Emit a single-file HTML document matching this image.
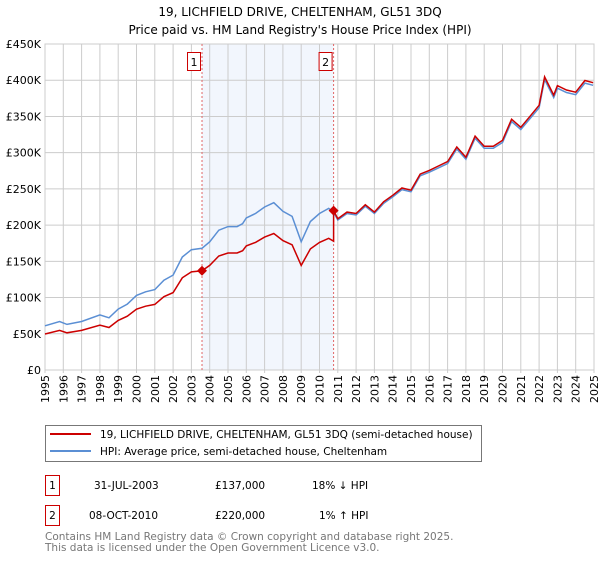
<!DOCTYPE html>
<html><head><meta charset="utf-8"><style>
body{margin:0;background:#fff;font-family:"DejaVu Sans","Liberation Sans",sans-serif;}
svg text{font-family:"DejaVu Sans","Liberation Sans",sans-serif;}
</style></head><body>
<svg id="chart" width="600" height="560" xmlns="http://www.w3.org/2000/svg">
<text x="300" y="16" text-anchor="middle" font-size="12">19, LICHFIELD DRIVE, CHELTENHAM, GL51 3DQ</text>
<text x="300" y="34" text-anchor="middle" font-size="12">Price paid vs. HM Land Registry's House Price Index (HPI)</text>
<g id="plot"></g>
<rect x="45.5" y="425.5" width="436" height="36" fill="#fff" stroke="#777"/>
<line x1="50" y1="434" x2="91" y2="434" stroke="#cc0000" stroke-width="2"/>
<text x="100" y="438" font-size="10.5">19, LICHFIELD DRIVE, CHELTENHAM, GL51 3DQ (semi-detached house)</text>
<line x1="50" y1="451" x2="91" y2="451" stroke="#5b8fd4" stroke-width="2"/>
<text x="100" y="455" font-size="10.5">HPI: Average price, semi-detached house, Cheltenham</text>
<g font-size="10.5">
<rect x="45.5" y="475.5" width="14" height="20" fill="#fff" stroke="#cc0000"/>
<text x="52.5" y="489" text-anchor="middle">1</text>
<text x="94" y="489">31-JUL-2003</text>
<text x="215" y="489">£137,000</text>
<text x="312" y="489">18% ↓ HPI</text>
</g>
<g font-size="10.5">
<rect x="45.5" y="505.5" width="14" height="20" fill="#fff" stroke="#cc0000"/>
<text x="52.5" y="519" text-anchor="middle">2</text>
<text x="89" y="519">08-OCT-2010</text>
<text x="215" y="519">£220,000</text>
<text x="319" y="519">1% ↑ HPI</text>
</g>
<text x="45" y="540" font-size="10.5" fill="#777">Contains HM Land Registry data © Crown copyright and database right 2025.</text>
<text x="45" y="551" font-size="10.5" fill="#777">This data is licensed under the Open Government Licence v3.0.</text>
</svg>
<script>
const hpiYears=[1995.0,1995.8,1996.2,1997.0,1998.0,1998.5,1999.0,1999.5,2000.0,2000.5,2001.0,2001.5,2002.0,2002.5,2003.0,2003.58,2004.0,2004.5,2005.0,2005.5,2005.8,2006.0,2006.5,2007.0,2007.5,2008.0,2008.5,2009.0,2009.5,2010.0,2010.5,2010.77,2011.0,2011.5,2012.0,2012.5,2013.0,2013.5,2014.0,2014.5,2015.0,2015.5,2016.0,2016.5,2017.0,2017.5,2018.0,2018.5,2019.0,2019.5,2020.0,2020.5,2021.0,2021.5,2022.0,2022.3,2022.8,2023.0,2023.5,2024.0,2024.5,2024.95];
const hpiValues=[61,67,63,67,76,72,84,91,103,108,111,124,131,156,166,168,177,193,198,198,202,210,216,225,231,219,212,177,205,216,223,218,207,216,214,226,216,230,239,249,246,268,273,279,285,305,291,320,306,306,314,343,332,347,362,401,376,389,383,380,396,393];
const saleYears=[2003.58,2010.77];
const salePrices=[137,220];
const yTicks=[0,50,100,150,200,250,300,350,400,450];
const yTickLabels=["£0","£50K","£100K","£150K","£200K","£250K","£300K","£350K","£400K","£450K"];
const xTicks=[1995,1996,1997,1998,1999,2000,2001,2002,2003,2004,2005,2006,2007,2008,2009,2010,2011,2012,2013,2014,2015,2016,2017,2018,2019,2020,2021,2022,2023,2024,2025];

const X0=45,X1=594,Y0=370,Y1=44;
const xs=y=>X0+(y-1995)/30*(X1-X0);
const ys=v=>Y0-v/450*(Y0-Y1);
const NS="http://www.w3.org/2000/svg";
const plot=document.getElementById('plot');
function mk(tag,attrs){const e=document.createElementNS(NS,tag);for(const k in attrs)e.setAttribute(k,attrs[k]);plot.appendChild(e);return e;}
function hpiAt(t){for(let i=0;i<hpiYears.length-1;i++){if(t>=hpiYears[i]&&t<=hpiYears[i+1]){const f=(t-hpiYears[i])/(hpiYears[i+1]-hpiYears[i]);return hpiValues[i]+f*(hpiValues[i+1]-hpiValues[i]);}}return hpiValues[hpiValues.length-1];}

let e=mk('rect',{x:X0,y:Y1,width:X1-X0,height:Y0-Y1,fill:'#fff'});


e=mk('rect',{x:xs(saleYears[0]),y:Y1,width:xs(saleYears[1])-xs(saleYears[0]),height:Y0-Y1,fill:'#f2f6fd'});


yTicks.forEach((v,i)=>{
 let l=mk('line',{x1:X0,x2:X1,y1:ys(v),y2:ys(v),stroke:'#cccccc'});
 
 
 let t=mk('text',{x:X0-4,y:ys(v)+4,'text-anchor':'end','font-size':'11'});
 t.textContent=yTickLabels[i];
 
 
});
xTicks.forEach(yr=>{
 let l=mk('line',{x1:xs(yr),x2:xs(yr),y1:Y1,y2:Y0+3,stroke:'#cccccc'});
 
 
 const tx=xs(yr)+4,ty=Y0+5;
 let t=mk('text',{x:tx,y:ty,'text-anchor':'end','font-size':'11',transform:`rotate(-90 ${tx} ${ty})`});
 t.textContent=yr;
 
 
});
e=mk('rect',{x:X0,y:Y1,width:X1-X0,height:Y0-Y1,fill:'none',stroke:'#cccccc'});


saleYears.forEach((yr,i)=>{
 let l=mk('line',{x1:xs(yr),x2:xs(yr),y1:Y1,y2:Y0,stroke:'#e06666','stroke-dasharray':'2,2'});
 
 
 let b=mk('rect',{x:xs(yr)-14.5,y:52.5,width:13,height:18,fill:'#fff',stroke:'#cc0000'});
 
 
 let t=mk('text',{x:xs(yr)-8,y:66,'text-anchor':'middle','font-size':'11'});
 t.textContent=String(i+1);
 
 
});
let hp=hpiYears.map((yr,i)=>xs(yr).toFixed(1)+','+ys(hpiValues[i]).toFixed(1)).join(' ');
e=mk('polyline',{points:hp,fill:'none',stroke:'#5b8fd4','stroke-width':1.5});


let pts=[];
const r0=salePrices[0]/hpiAt(saleYears[0]),r1=salePrices[1]/hpiAt(saleYears[1]);
hpiYears.forEach((yr,i)=>{
 if(yr<saleYears[1]) pts.push([yr,hpiValues[i]*r0]);
 if(i<hpiYears.length-1 && yr<saleYears[1] && hpiYears[i+1]>=saleYears[1]){
  pts.push([saleYears[1],hpiAt(saleYears[1])*r0]);pts.push([saleYears[1],salePrices[1]]);
 }
 if(yr>saleYears[1]) pts.push([yr,hpiValues[i]*r1]);
});
e=mk('polyline',{points:pts.map(p=>xs(p[0]).toFixed(1)+','+ys(p[1]).toFixed(1)).join(' '),fill:'none',stroke:'#cc0000','stroke-width':1.5});


saleYears.forEach((yr,i)=>{
 let cx=xs(yr),cy=ys(salePrices[i]);
 let d=mk('polygon',{points:`${cx},${cy-5} ${cx+5},${cy} ${cx},${cy+5} ${cx-5},${cy}`,fill:'#cc0000'});
 
 
});
</script>
</body></html>
